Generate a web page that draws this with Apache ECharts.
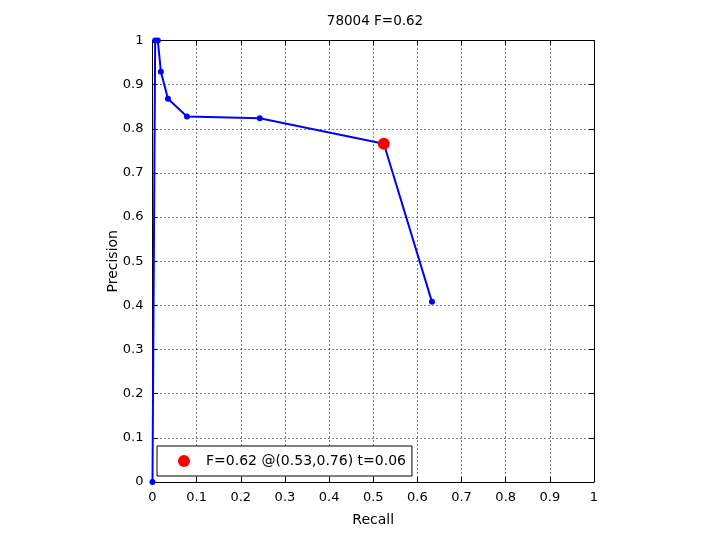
<!DOCTYPE html>
<html>
<head>
<meta charset="utf-8">
<script src="https://cdn.jsdelivr.net/npm/echarts@6/dist/echarts.min.js"></script>
<style>html,body{margin:0;padding:0;background:#fff}#c{width:720px;height:540px}</style>
</head>
<body>
<div id="c"></div>
<script>
var titleText = '78004 F=0.62';
var recall = [0, 0.006, 0.012, 0.019, 0.035, 0.078, 0.243, 0.524, 0.633];
var precision = [0, 1, 1, 0.929, 0.868, 0.828, 0.824, 0.766, 0.408];
var bestPoint = [0.524, 0.766];
var bestLabel = 'F=0.62 @(0.53,0.76) t=0.06';
var xName = 'Recall';
var yName = 'Precision';

var font = 'DejaVu Sans, Liberation Sans, sans-serif';
var curve = recall.map(function (r, i) { return [r, precision[i]]; });

function axisBase(extra) {
  var a = {
    type: 'value', min: 0, max: 1, interval: 0.1,
    axisLine: { show: true, onZero: false, lineStyle: { color: '#000', width: 1 } },
    axisTick: { show: true, inside: true, length: 5, lineStyle: { color: '#000' } },
    axisLabel: { color: '#000', fontFamily: font, fontSize: 13 },
    splitLine: { show: false }
  };
  for (var k in extra) a[k] = extra[k];
  return a;
}

var chart = echarts.init(document.getElementById('c'));
chart.setOption({
  backgroundColor: '#fff',
  animation: false,
  title: {
    text: titleText, left: 370, top: 9, textAlign: 'center',
    textStyle: { fontFamily: font, fontSize: 13.5, fontWeight: 'normal', color: '#000' }
  },
  grid: { left: 152.5, right: 126, top: 40.5, bottom: 58, containLabel: false },
  legend: {
    left: 157, top: 446,
    data: [{ name: bestLabel, icon: 'circle' }],
    itemWidth: 12, itemHeight: 12,
    padding: [8, 6, 8, 21],
    borderColor: '#000', borderWidth: 1, borderRadius: 0,
    backgroundColor: '#fff',
    textStyle: { fontFamily: font, fontSize: 14, color: '#000', padding: [0, 0, 0, 11] }
  },
  xAxis: [
    axisBase({
      position: 'bottom', name: xName, nameLocation: 'middle', nameGap: 31,
      nameMoveOverlap: false,
      nameTextStyle: { fontFamily: font, fontSize: 14, color: '#000' },
      axisLabel: { color: '#000', fontFamily: font, fontSize: 13, margin: 9 },
      splitLine: { show: true, lineStyle: { color: '#000', type: [1, 3], width: 1 } }
    }),
    axisBase({ position: 'top', axisLabel: { show: false } })
  ],
  yAxis: [
    axisBase({
      position: 'left', name: yName, nameLocation: 'middle', nameGap: 32,
      nameMoveOverlap: false,
      nameTextStyle: { fontFamily: font, fontSize: 14, color: '#000' },
      axisLabel: { color: '#000', fontFamily: font, fontSize: 13, margin: 9, padding: [5, 0, 0, 0] },
      splitLine: { show: true, lineStyle: { color: '#000', type: [1, 3], width: 1 } }
    }),
    axisBase({ position: 'right', axisLabel: { show: false } })
  ],
  series: [
    {
      type: 'line', name: 'curve', data: curve,
      xAxisIndex: 0, yAxisIndex: 0,
      symbol: 'circle', symbolSize: 6,
      lineStyle: { color: '#0000ff', width: 2 },
      itemStyle: { color: '#0000ff' },
      z: 3
    },
    {
      type: 'scatter', name: bestLabel, data: [bestPoint],
      xAxisIndex: 0, yAxisIndex: 0,
      symbol: 'circle', symbolSize: 12,
      itemStyle: { color: '#ff0000', opacity: 1 },
      z: 4
    }
  ]
});
</script>
</body>
</html>
